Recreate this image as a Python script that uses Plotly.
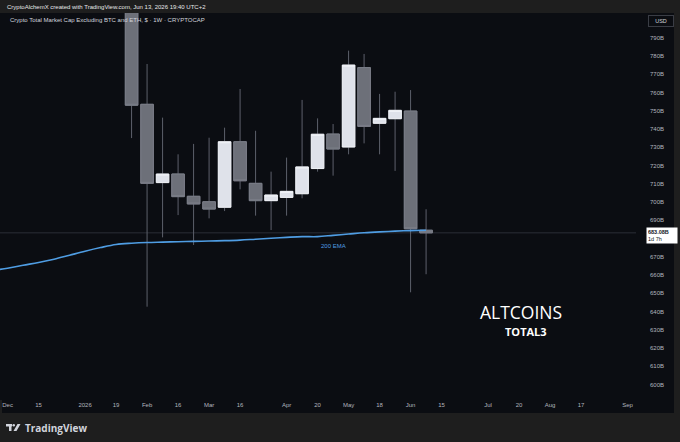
import plotly.graph_objects as go

# weekly candles, values in billions USD
weeks = ["2026-01-26", "2026-02-02", "2026-02-09", "2026-02-16", "2026-02-23",
         "2026-03-02", "2026-03-09", "2026-03-16", "2026-03-23", "2026-03-30",
         "2026-04-06", "2026-04-13", "2026-04-20", "2026-04-27", "2026-05-04",
         "2026-05-11", "2026-05-18", "2026-05-25", "2026-06-01", "2026-06-08"]
opens = [812.0, 753.5, 710.6, 715.3, 703.1, 700.1, 697.1, 733.0, 710.2, 700.7,
         702.5, 704.5, 718.3, 737.2, 730.1, 773.6, 743.1, 745.6, 749.8, 684.5]
highs = [826.0, 775.6, 746.2, 726.1, 731.8, 735.2, 740.7, 761.9, 739.0, 716.6,
         724.3, 755.9, 745.8, 742.7, 782.9, 781.1, 759.2, 760.4, 761.3, 696.0]
lows = [735.0, 642.6, 680.6, 692.8, 676.4, 691.0, 695.0, 706.9, 692.5, 684.6,
        692.5, 702.0, 716.6, 714.4, 726.1, 732.1, 726.1, 717.0, 650.5, 660.4]
closes = [753.0, 710.2, 715.3, 702.9, 698.9, 696.1, 733.0, 711.6, 700.7, 703.8,
          705.8, 719.2, 737.1, 729.0, 775.0, 741.4, 745.8, 750.2, 685.3, 683.08]

# 200 EMA (weekly)
ema_weeks = ["2025-11-24", "2025-12-01", "2025-12-08", "2025-12-15", "2025-12-22",
             "2025-12-29", "2026-01-05", "2026-01-12", "2026-01-19"] + weeks
ema_vals = [662.5, 663.7, 665.3, 666.8, 668.6, 670.8, 673.0, 675.0, 676.7,
            677.4, 677.8, 678.0, 678.2, 678.4, 678.6, 678.8, 679.1, 679.6, 680.1,
            680.6, 681.0, 681.0, 681.7, 682.4, 683.1, 683.6, 684.0, 684.3, 684.5]

tick_dates = ["2025-12-01", "2025-12-15", "2026-01-05", "2026-01-19", "2026-02-02",
              "2026-02-16", "2026-03-02", "2026-03-16", "2026-04-06", "2026-04-20",
              "2026-05-04", "2026-05-18", "2026-06-01", "2026-06-15", "2026-07-06",
              "2026-07-20", "2026-08-03", "2026-08-17", "2026-09-07"]
tick_text = ["Dec", "15", "2026", "19", "Feb", "16", "Mar", "16", "Apr", "20",
             "May", "18", "Jun", "15", "Jul", "20", "Aug", "17", "Sep"]
# 680B is covered by the last-price label
price_ticks = [v for v in range(600, 800, 10) if v != 680]

# page geometry (pixels)
L, R, T, B = 0, 44, 13, 42
W = 680 - L - R
H = 442 - T - B


def fx(px):
    return (px - L) / W


def fy(py):
    return (442 - B - py) / H


BG = "#0b0d12"
FRAME = "#1e1e1e"
TXT = "#b2b5be"

fig = go.Figure()

# wicks
fig.add_trace(go.Candlestick(
    x=weeks, open=opens, high=highs, low=lows, close=closes,
    increasing=dict(line=dict(color="#5d606b", width=1), fillcolor="#5d606b"),
    decreasing=dict(line=dict(color="#5d606b", width=1), fillcolor="#5d606b"),
    hoverinfo="skip", showlegend=False,
))
# bodies
body_hi = [max(o, c) for o, c in zip(opens, closes)]
body_lo = [min(o, c) for o, c in zip(opens, closes)]
fig.add_trace(go.Candlestick(
    x=weeks, open=opens, high=body_hi, low=body_lo, close=closes,
    increasing=dict(line=dict(color="#f2f4f8", width=1), fillcolor="#dfe2ea"),
    decreasing=dict(line=dict(color="#7b7e88", width=1), fillcolor="#6d7079"),
    showlegend=False,
))

fig.add_trace(go.Scatter(
    x=ema_weeks, y=ema_vals, mode="lines",
    line=dict(color="#4f9de3", width=1.6, shape="spline"),
    hoverinfo="skip", showlegend=False,
))

shapes = [
    dict(type="rect", xref="paper", yref="paper", x0=fx(2), x1=fx(674),
         y0=fy(413), y1=fy(13), fillcolor=BG, line=dict(width=0), layer="below"),
    # last price line
    dict(type="line", xref="paper", yref="y", x0=0, x1=1,
         y0=closes[-1], y1=closes[-1], line=dict(color="#2b2e37", width=1),
         layer="below"),
    # TradingView logo
    dict(type="rect", xref="paper", yref="paper", x0=fx(6), x1=fx(12),
         y0=fy(426.5), y1=fy(424), fillcolor="#d1d4dc", line=dict(width=0)),
    dict(type="rect", xref="paper", yref="paper", x0=fx(9), x1=fx(11.5),
         y0=fy(431), y1=fy(424), fillcolor="#d1d4dc", line=dict(width=0)),
    dict(type="circle", xref="paper", yref="paper", x0=fx(12.5), x1=fx(15),
         y0=fy(426.5), y1=fy(424), fillcolor="#d1d4dc", line=dict(width=0)),
    dict(type="path", xref="paper", yref="paper",
         path=f"M {fx(17.5)} {fy(424)} L {fx(20.5)} {fy(424)} L {fx(16.5)} {fy(431)} "
              f"L {fx(13.5)} {fy(431)} Z",
         fillcolor="#d1d4dc", line=dict(width=0)),
]

annotations = [
    dict(text="CryptoAlchemX created with TradingView.com, Jun 13, 2026 19:40 UTC+2",
         xref="paper", yref="paper", x=fx(5), y=fy(6.5), xanchor="left",
         yanchor="middle", showarrow=False,
         font=dict(size=6, color="#e6e6e6", family="Liberation Sans")),
    dict(text="Crypto Total Market Cap Excluding BTC and ETH, $ · 1W · CRYPTOCAP",
         xref="paper", yref="paper", x=fx(8), y=fy(20), xanchor="left",
         yanchor="middle", showarrow=False,
         font=dict(size=6, color="#d1d4dc", family="Liberation Sans")),
    dict(text="USD", xref="paper", yref="paper", x=fx(660.5), y=fy(21),
         xanchor="center", yanchor="middle", showarrow=False,
         bgcolor=BG, bordercolor="#3a3d45", borderwidth=1, borderpad=2,
         width=20, font=dict(size=5.5, color="#d1d4dc", family="Liberation Sans")),
    dict(text="<b>683.08B</b><br>1d 7h", xref="paper", yref="y",
         x=fx(646), y=closes[-1], xanchor="left", yanchor="middle", yshift=-3,
         align="left", showarrow=False, bgcolor="#ffffff", borderpad=1,
         width=28, font=dict(size=5.5, color="#131722", family="Liberation Sans")),
    dict(text="200 EMA", x="2026-04-27", y=675.9, xanchor="center",
         yanchor="middle", showarrow=False,
         font=dict(size=6, color="#4f9de3", family="Liberation Sans")),
    dict(text="ALTCOINS", xref="paper", yref="paper", x=fx(521), y=fy(311.5),
         xanchor="center", yanchor="middle", showarrow=False,
         font=dict(size=17.5, color="#ffffff", family="Open Sans")),
    dict(text="<b>TOTAL3</b>", xref="paper", yref="paper", x=fx(526), y=fy(331.5),
         xanchor="center", yanchor="middle", showarrow=False,
         font=dict(size=11, color="#ffffff", family="Open Sans")),
    dict(text="<b>TradingView</b>", xref="paper", yref="paper", x=fx(23), y=fy(427.5),
         xanchor="left", yanchor="middle", showarrow=False,
         font=dict(size=10, color="#d1d4dc", family="Open Sans")),
]

fig.update_layout(
    width=680, height=442,
    margin=dict(l=L, r=R, t=T, b=B),
    paper_bgcolor=FRAME, plot_bgcolor=BG,
    boxgap=0.1, boxgroupgap=0.1, boxmode="overlay",
    shapes=shapes, annotations=annotations,
    hovermode=False,
    xaxis=dict(
        range=["2025-11-27 14:00", "2026-09-10 19:00"],
        rangeslider=dict(visible=False),
        tickvals=tick_dates, ticktext=tick_text,
        tickfont=dict(size=6, color=TXT, family="Liberation Sans"),
        showgrid=False, zeroline=False, showline=False, ticks="",
    ),
    yaxis=dict(
        side="right", range=[591.48, 803.53],
        tickvals=price_ticks, ticktext=[f"{v}B" for v in price_ticks],
        tickfont=dict(size=6, color=TXT, family="Liberation Sans"),
        ticklabelstandoff=13,
        showgrid=False, zeroline=False, showline=False, ticks="",
    ),
)

fig.write_html(
    "out.html",
    config={"displayModeBar": False},
    post_script="document.body.style.margin='0';document.body.style.background='#1e1e1e';",
)
